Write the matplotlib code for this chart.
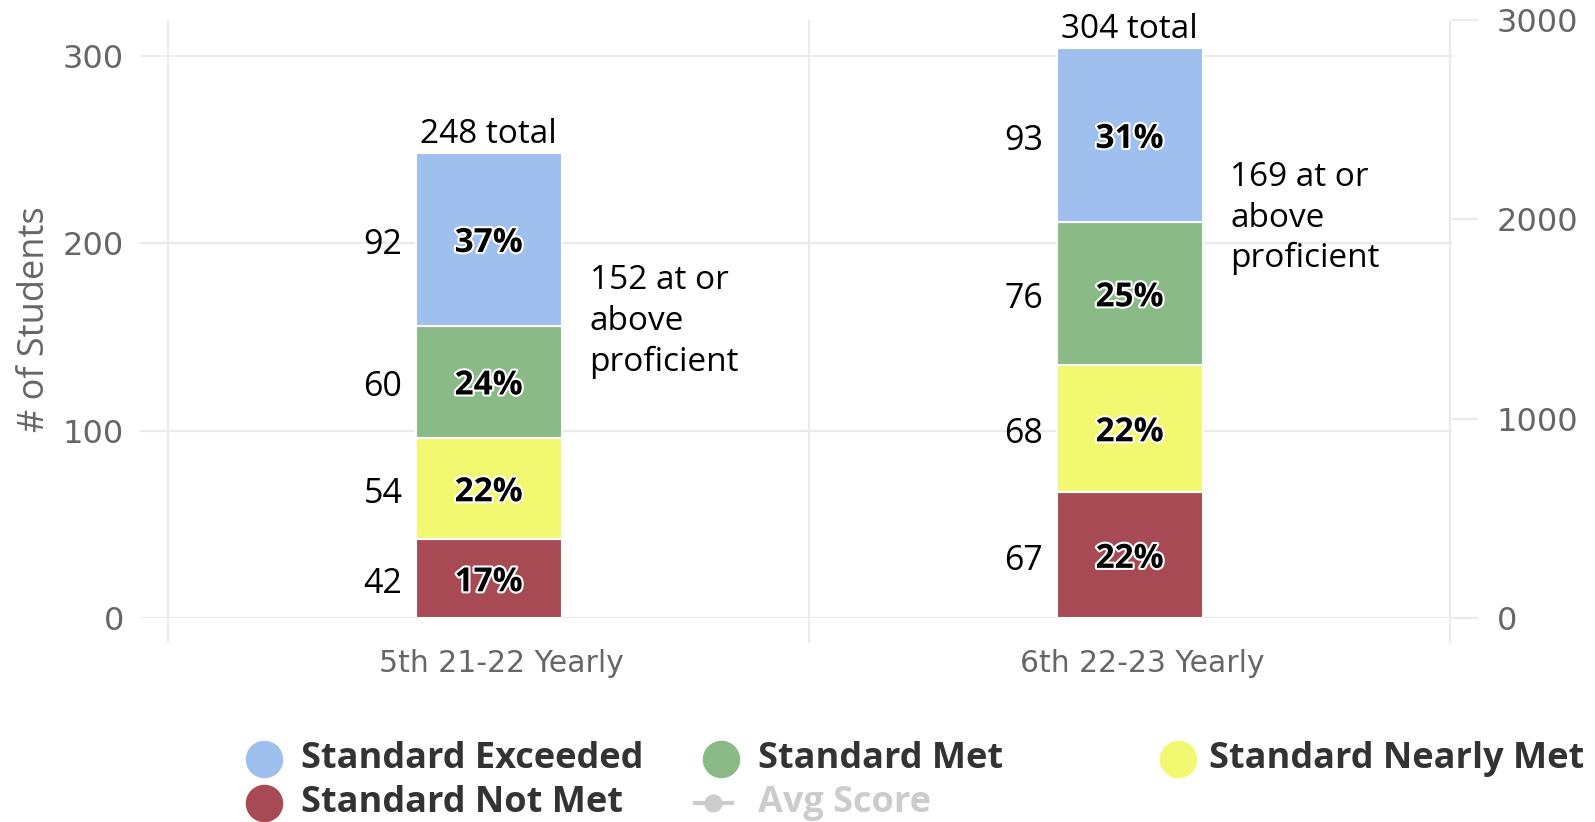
import matplotlib
matplotlib.use("Agg")
import numpy as np
from matplotlib import pyplot as plt
from matplotlib import patheffects as pe
from matplotlib.lines import Line2D
from matplotlib.transforms import ScaledTranslation

W, H = 1595, 822

categories = ["5th 21-22 Yearly", "6th 22-23 Yearly"]
not_met = [42, 67]
nearly_met = [54, 68]
met = [60, 76]
exceeded = [92, 93]

stack_names = ["Standard Not Met", "Standard Nearly Met", "Standard Met", "Standard Exceeded"]
stack_colors = ["#A84A53", "#F2F870", "#8ABB87", "#9FBFEE"]
legend_order = ["Standard Exceeded", "Standard Met", "Standard Nearly Met", "Standard Not Met"]

GRID = "#EBEBEB"
LABEL = "#666666"
FONT = "Open Sans"


def fpos(x, y):
    """pixel position (from top left) -> figure fraction"""
    return x / W, 1 - y / H


fig = plt.figure(figsize=(W / 100, H / 100), dpi=100)
ax = fig.add_axes([140 / W, 1 - 618 / H, 1312 / W, 598 / H])
ax.set_xlim(-0.544, 1.503)
ax.set_ylim(0, 319)

x = np.arange(len(categories))
width = 0.228
series = [not_met, nearly_met, met, exceeded]
totals = np.sum(series, axis=0)
bottom = np.zeros(len(categories))

for vals, color in zip(series, stack_colors):
    vals = np.array(vals)
    ax.bar(x, vals, width, bottom=bottom, color=color, edgecolor="white",
           linewidth=1.5, zorder=3)
    for i, v in enumerate(vals):
        yc = bottom[i] + v / 2
        pct = "%d%%" % round(v / totals[i] * 100)
        ax.annotate(pct, (x[i], yc), xytext=(0, -3), textcoords="offset points",
                    ha="center", va="center", fontsize=24, fontweight="bold",
                    family=FONT, color="black", zorder=4,
                    path_effects=[pe.withStroke(linewidth=3, foreground="white")])
        ax.annotate(str(v), (x[i] - width / 2, yc), xytext=(-9.5, -4),
                    textcoords="offset points", ha="right", va="center",
                    fontsize=24.5, family=FONT, color="black")
    bottom = bottom + vals

proficient = np.array(met) + np.array(exceeded)
for i in range(len(categories)):
    ax.annotate("%d total" % totals[i], (x[i], totals[i]), xytext=(0, 13.5),
                textcoords="offset points", ha="center", va="center",
                fontsize=24, family=FONT, color="black")
    ax.annotate("%d at or\nabove\nproficient" % proficient[i],
                (x[i] + width / 2, not_met[i] + nearly_met[i] + met[i]),
                xytext=(20, 3), textcoords="offset points", ha="left",
                va="center", fontsize=24, family=FONT, color="black",
                linespacing=1.3)

for s in ax.spines.values():
    s.set_visible(False)
ax.set_yticks([0, 100, 200, 300])
ax.yaxis.grid(True, color=GRID, linewidth=1.6, zorder=0)
ax.tick_params(axis="y", length=0, pad=11.5, labelsize=23, labelcolor=LABEL)

ax.set_xticks(x)
ax.set_xticklabels(categories)
ax.set_xticks([-0.5, 0.5, 1.5], minor=True)
ax.xaxis.grid(True, which="minor", color=GRID, linewidth=1.6, zorder=0)
ax.tick_params(axis="x", which="major", length=0, pad=22.5, labelsize=21.5,
               labelcolor=LABEL)
ax.tick_params(axis="x", which="minor", length=18, width=1.6, color=GRID)
for lbl in ax.get_xticklabels():
    lbl.set_transform(lbl.get_transform() + ScaledTranslation(0.13, 0, fig.dpi_scale_trans))
ax.set_axisbelow(True)

ax2 = ax.twinx()
ax2.set_ylim(0, 3000)
ax2.set_yticks([0, 1000, 2000, 3000])
for s in ax2.spines.values():
    s.set_visible(False)
ax2.tick_params(axis="y", length=18.7, width=1.6, color=GRID, pad=13.5,
                labelsize=23, labelcolor=LABEL)

fig.text(*fpos(35, 319), "# of Students", rotation=90, ha="center",
         va="center", fontsize=26, family=FONT, color=LABEL)

# legend, drawn by hand so the columns line up like the original
for k, name in enumerate(legend_order + ["Avg Score"]):
    col, row = k % 3, k // 3
    mx = 264 + col * 457
    my = 759 + row * 44
    if name == "Avg Score":
        fig.add_artist(Line2D([fpos(695, my)[0], fpos(732, my)[0]],
                              [fpos(0, my)[1]] * 2, color="#CCCCCC", lw=3,
                              transform=fig.transFigure))
        fig.add_artist(Line2D([fpos(713, my)[0]], [fpos(0, my)[1]], marker="o",
                              ms=12, color="#CCCCCC", transform=fig.transFigure))
        tcolor = "#CCCCCC"
    else:
        c = stack_colors[stack_names.index(name)]
        fig.add_artist(Line2D([fpos(mx, my)[0]], [fpos(mx, my)[1]], marker="o",
                              ms=26, color=c, lw=0, transform=fig.transFigure))
        tcolor = "#333333"
    tx = mx + (31 if col == 2 else 37)
    fig.text(*fpos(tx, my), name, ha="left", va="center", fontsize=26,
             fontweight="bold", family=FONT, color=tcolor)

fig.savefig("out.png", dpi=100)
